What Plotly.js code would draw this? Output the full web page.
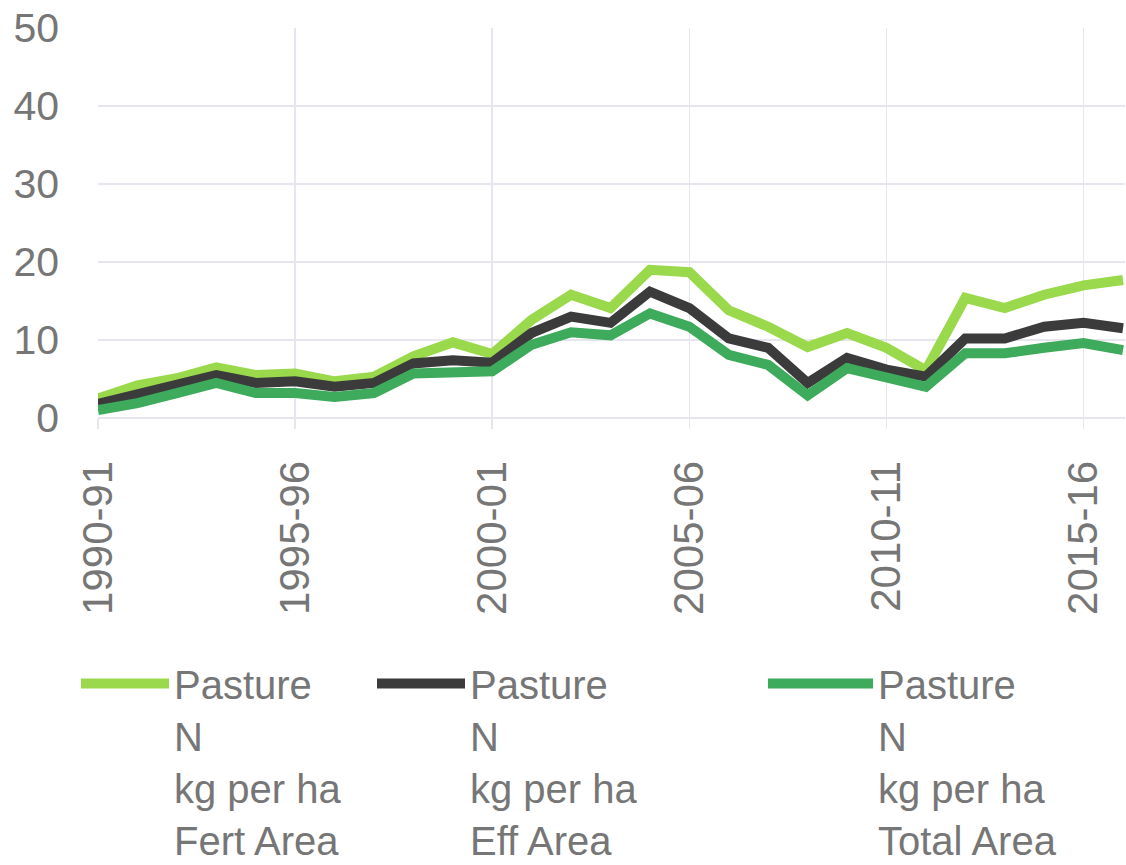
<!DOCTYPE html>
<html>
<head>
<meta charset="utf-8">
<script src="https://cdn.plot.ly/plotly-3.0.1.min.js"></script>
<style>html,body{margin:0;padding:0;background:#fff;}#chart{width:1126px;height:865px;}</style>
</head>
<body>
<div id="chart"></div>
<script>
const years = ["1990-91","1991-92","1992-93","1993-94","1994-95","1995-96","1996-97","1997-98","1998-99","1999-00",
  "2000-01","2001-02","2002-03","2003-04","2004-05","2005-06","2006-07","2007-08","2008-09","2009-10",
  "2010-11","2011-12","2012-13","2013-14","2014-15","2015-16","2016-17"];
const tickYears = ["1990-91","1995-96","2000-01","2005-06","2010-11","2015-16"];
const fertArea  = [2.5,4.2,5.1,6.5,5.5,5.7,4.7,5.3,7.9,9.7,8.2,12.6,15.8,14.1,19.0,18.7,13.8,11.7,9.1,10.9,9.0,6.1,15.4,14.1,15.8,17.0,17.7];
const effArea   = [1.8,3.0,4.2,5.5,4.5,4.7,4.0,4.5,7.0,7.4,7.1,10.9,13.0,12.2,16.2,14.1,10.2,9.0,4.5,7.7,6.2,5.3,10.2,10.2,11.7,12.2,11.5];
const totalArea = [1.0,1.9,3.2,4.5,3.2,3.2,2.7,3.2,5.7,5.9,6.0,9.4,11.0,10.6,13.4,11.7,8.1,6.8,2.9,6.4,5.1,4.0,8.3,8.3,9.0,9.6,8.7];
const seriesNames = ["Pasture<br>N<br>kg per ha<br>Fert Area","Pasture<br>N<br>kg per ha<br>Eff Area","Pasture<br>N<br>kg per ha<br>Total Area"];
const colors = ["#9ad94b","#3b3b3b","#3daa5c"];
const values = [fertArea, effArea, totalArea];
const legendIds = ["legend","legend2","legend3"];

const traces = values.map((v,k)=>({
  x: years, y: v, type: "scatter", mode: "lines", name: seriesNames[k],
  line: {color: colors[k], width: 10, shape: "linear"},
  legend: legendIds[k]
}));

const font = {family: "Liberation Sans, Arial, sans-serif", size: 41, color: "#767676"};
const xFont = {family: "Liberation Sans, Arial, sans-serif", size: 42, color: "#767676"};
const legendFont = {family: "Liberation Sans, Arial, sans-serif", size: 40, color: "#767676"};
const grid = "#e6e6ee";
const legendBase = {orientation: "h", xref: "container", yref: "container", yanchor: "top", xanchor: "left",
  y: 1 - 651/865, font: legendFont, itemwidth: 88, valign: "top", bgcolor: "rgba(0,0,0,0)", borderwidth: 0,
  maxheight: 865};

const layout = {
  width: 1126, height: 865,
  margin: {l: 98, r: 1, t: 28, b: 447},
  paper_bgcolor: "#fff", plot_bgcolor: "#fff",
  font: font,
  showlegend: true,
  xaxis: {type: "category", range: [0, 26.05], tickvals: tickYears, ticktext: tickYears,
    tickangle: -90, showgrid: true, gridcolor: grid, gridwidth: 1.5,
    ticks: "outside", ticklen: 10, tickcolor: grid, tickwidth: 1.5,
    ticklabelstandoff: 15, showline: false, zeroline: false, tickfont: xFont, automargin: false},
  yaxis: {range: [0, 50], tickvals: [0,10,20,30,40,50], showgrid: true, gridcolor: grid, gridwidth: 1.5,
    zeroline: true, zerolinecolor: grid, zerolinewidth: 1.5, ticks: "", ticklabelstandoff: 38, tickfont: font, automargin: false},
  legend: Object.assign({}, legendBase, {x: 76/1126}),
  legend2: Object.assign({}, legendBase, {x: 372/1126}),
  legend3: Object.assign({}, legendBase, {x: 763/1126, itemwidth: 105})
};

Plotly.newPlot("chart", traces, layout, {displayModeBar: false, staticPlot: true});
</script>
</body>
</html>
